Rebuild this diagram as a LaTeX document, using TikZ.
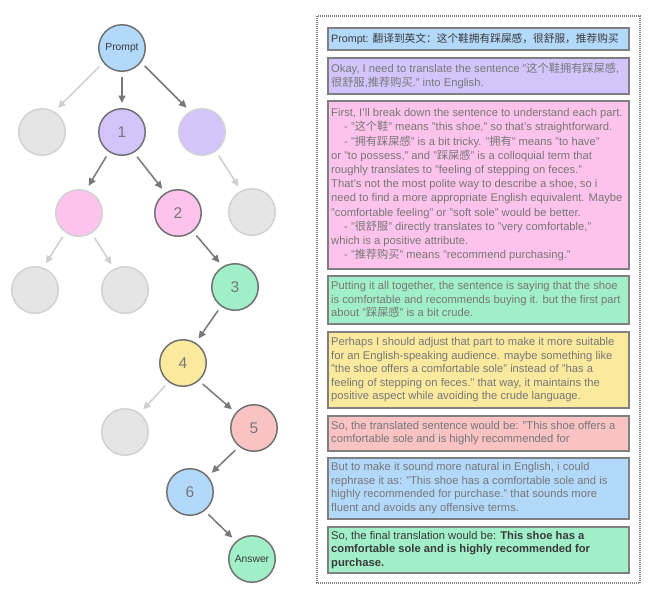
\documentclass[tikz,border=0pt]{standalone}
\usepackage{fontspec}
\setmainfont{Liberation Sans}
\newfontfamily\cjk{Noto Sans CJK SC}
\usetikzlibrary{arrows.meta}
\newcommand{\zh}[1]{{\cjk #1}}
\newcommand{\ind}{\hspace*{13pt}}
\definecolor{cblue}{HTML}{B3D9FA}
\definecolor{cpurple}{HTML}{D3C5FB}
\definecolor{cpink}{HTML}{FDC3EC}
\definecolor{cgreen}{HTML}{A0EFC8}
\definecolor{cyellow}{HTML}{FBEA9E}
\definecolor{cred}{HTML}{F9C3C4}
\definecolor{cghost}{HTML}{E5E5E5}
\definecolor{cghostline}{HTML}{D2D2D2}
\definecolor{cborder}{HTML}{727272}
\definecolor{cnum}{HTML}{767676}
\definecolor{cdark}{HTML}{3A3A3A}
\definecolor{ctext}{HTML}{777777}
\definecolor{arrdark}{HTML}{787878}
\definecolor{arrlight}{HTML}{CFCFCF}
\definecolor{boxline}{HTML}{808080}
\tikzset{
  circ/.style={circle, minimum size=46.5pt, inner sep=0pt, line width=1.5pt},
  mainc/.style={circ, draw=cborder, text=cnum, font=\fontsize{15.5}{15.5}\selectfont},
  endc/.style={circ, draw=cborder, text=cdark, font=\fontsize{10.3}{10.3}\selectfont},
  ghost/.style={circ, draw=cghostline, fill=cghost},
  ghostcol/.style={circ, draw=cghostline},
  darr/.style={draw=arrdark, line width=1.5pt, -{Triangle[length=7.5pt,width=7pt]}, shorten <=5pt, shorten >=5pt},
  larr/.style={draw=arrlight, line width=1.5pt, -{Triangle[length=7.5pt,width=7pt]}, shorten <=5pt, shorten >=5pt},
  tbox/.style={draw=boxline, line width=1.5pt, minimum width=301pt, inner sep=0pt, anchor=north west},
  ttext/.style={anchor=west, align=left, inner sep=0pt, text=ctext, font=\fontsize{11.2}{13.6}\selectfont},
}
\begin{document}
\begin{tikzpicture}[x=1pt,y=-1pt]
\useasboundingbox[fill=white] (0,0) rectangle (658,600);

% tree nodes
\node[endc, fill=cblue] (p) at (122,48) {Prompt};
\node[ghost] (g1) at (42,132) {};
\node[mainc, fill=cpurple] (n1) at (122,132) {1};
\node[ghostcol, fill=cpurple] (pr) at (202,132) {};
\node[ghostcol, fill=cpink] (pk) at (79,213) {};
\node[mainc, fill=cpink] (n2) at (178,213) {2};
\node[ghost] (g2) at (252,212) {};
\node[ghost] (g3) at (35,290) {};
\node[ghost] (g4) at (125,290) {};
\node[mainc, fill=cgreen] (n3) at (235,287) {3};
\node[mainc, fill=cyellow] (n4) at (183,363) {4};
\node[ghost] (g5) at (125,432) {};
\node[mainc, fill=cred] (n5) at (254,428) {5};
\node[mainc, fill=cblue] (n6) at (190,492) {6};
\node[endc, fill=cgreen] (ans) at (252,559) {Answer};

% connectors
\draw[larr] (p.218) -- (g1.59);
\draw[darr] (p.-90) -- (n1.90);
\draw[darr] (p.-37) -- (pr.120);
\draw[darr] (n1.-123) -- (pk.73);
\draw[darr] (n1.-60) -- (n2.122);
\draw[larr] (pr.-54) -- (g2.117);
\draw[larr] (pk.-125) -- (g3.70);
\draw[larr] (pk.-58) -- (g4.117);
\draw[darr] (n2.-51) -- (n3.121);
\draw[darr] (n3.-126) -- (n4.58);
\draw[larr] (n4.-127) -- (g5.52);
\draw[darr] (n4.-48) -- (n5.140);
\draw[darr] (n5.-129) -- (n6.41);
\draw[darr] (n6.-52) -- (ans.132);

% outer dotted frame
\draw[color=boxline, line width=1.2pt, dash pattern=on 1pt off 1pt] (317,16) rectangle (640,583);

% text boxes
\node[tbox, fill=cblue, minimum height=22pt] (b0) at (327,27) {};
\node[ttext, text=cdark, font=\fontsize{10.7}{13}\selectfont] (t0) at ([xshift=4pt]b0.west) {Prompt: \zh{翻译到英文：这个鞋拥有踩屎感，很舒服，推荐购买}};

\node[tbox, fill=cpurple, minimum height=36pt] (b1) at (327,57) {};
\node[ttext] (t1) at ([xshift=4pt]b1.west) {Okay, I need to translate the sentence "\zh{这个鞋拥有踩屎感},\\
\zh{很舒服},\zh{推荐购买}." into English.};

\node[tbox, fill=cpink, minimum height=168pt] (b2) at (327,100) {};
\node[ttext, font=\fontsize{11.2}{14.2}\selectfont] (t2) at ([xshift=4pt]b2.west) {First, I'll break down the sentence to understand each part.\\
\ind- "\zh{这个鞋}" means "this shoe," so that's straightforward.\\
\ind- "\zh{拥有踩屎感}" is a bit tricky. "\zh{拥有}" means "to have"\\
or "to possess," and "\zh{踩屎感}" is a colloquial term that\\
roughly translates to "feeling of stepping on feces."\\
That's not the most polite way to describe a shoe, so i\\
need to find a more appropriate English equivalent. Maybe\\
"comfortable feeling" or "soft sole" would be better.\\
\ind- "\zh{很舒服}" directly translates to "very comfortable,"\\
which is a positive attribute.\\
\ind- "\zh{推荐购买}" means "recommend purchasing."};

\node[tbox, fill=cgreen, minimum height=48pt] (b3) at (327,275) {};
\node[ttext] (t3) at ([xshift=4pt]b3.west) {Putting it all together, the sentence is saying that the shoe\\
is comfortable and recommends buying it. but the first part\\
about "\zh{踩屎感}" is a bit crude.};

\node[tbox, fill=cyellow, minimum height=76pt] (b4) at (327,331) {};
\node[ttext] (t4) at ([xshift=4pt]b4.west) {Perhaps I should adjust that part to make it more suitable\\
for an English-speaking audience. maybe something like\\
"the shoe offers a comfortable sole" instead of "has a\\
feeling of stepping on feces." that way, it maintains the\\
positive aspect while avoiding the crude language.};

\node[tbox, fill=cred, minimum height=35pt] (b5) at (327,415) {};
\node[ttext] (t5) at ([xshift=4pt]b5.west) {So, the translated sentence would be: "This shoe offers a\\
comfortable sole and is highly recommended for};

\node[tbox, fill=cblue, minimum height=61pt] (b6) at (327,457) {};
\node[ttext] (t6) at ([xshift=4pt]b6.west) {But to make it sound more natural in English, i could\\
rephrase it as: "This shoe has a comfortable sole and is\\
highly recommended for purchase." that sounds more\\
fluent and avoids any offensive terms.};

\node[tbox, fill=cgreen, minimum height=46pt] (b7) at (327,526) {};
\node[ttext, text=cdark] (t7) at ([xshift=4pt]b7.west) {So, the final translation would be: \textbf{This shoe has a}\\
\textbf{comfortable sole and is highly recommended for}\\
\textbf{purchase.}};
\end{tikzpicture}
\end{document}
